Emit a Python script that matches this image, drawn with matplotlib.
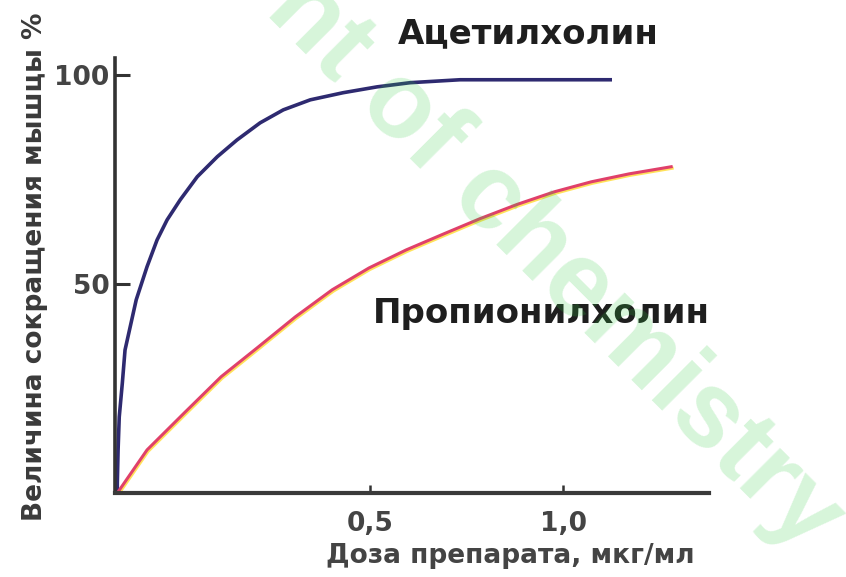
import matplotlib
matplotlib.use("Agg")
import matplotlib.pyplot as plt
import matplotlib.transforms as mtransforms

# values (x in the drawing's dose scale, y in %)
ach_dose = [-0.155, -0.155, -0.153, -0.150, -0.142, -0.135, -0.106, -0.078,
            -0.052, -0.026, 0.008, 0.052, 0.104, 0.155, 0.215, 0.275, 0.345,
            0.430, 0.518, 0.604, 0.733, 1.122]
ach_resp = [0, 2.4, 10.3, 18.2, 26.3, 34.2, 46.2, 54.1,
            60.5, 65.3, 70.1, 75.6, 80.4, 84.4, 88.5, 91.6, 94.0,
            95.7, 97.1, 98.1, 98.8, 98.8]

prop_dose = [-0.155, -0.078, 0.018, 0.114, 0.210, 0.306, 0.402,
             0.497, 0.593, 0.692, 0.785, 0.881, 0.977, 1.073, 1.171, 1.280]
prop_resp = [0, 10.3, 19.1, 27.8, 34.9, 42.1, 48.6,
             53.8, 58.1, 62.0, 65.6, 69.0, 72.0, 74.4, 76.3, 78.0]

x_ticks = [0.5, 1.0]
x_ticklabels = ["0,5", "1,0"]
y_ticks = [50, 100]
y_ticklabels = ["50", "100"]

fig = plt.figure(figsize=(8.46, 5.77), dpi=100)
ax = fig.add_axes([115 / 846, 1 - 493 / 577, 594 / 846, 435 / 577])
ax.set_facecolor("none")

ax.plot(ach_dose, ach_resp, color="#2e2a70", lw=2.6, solid_joinstyle="round")

# yellow fringe under the red curve
shift = mtransforms.offset_copy(ax.transData, fig=fig, x=1.0, y=-1.5, units="dots")
ax.plot(prop_dose, prop_resp, color="#ffe25a", lw=2.2, transform=shift,
        solid_joinstyle="round")
ax.plot(prop_dose, prop_resp, color="#e0406a", lw=2.2, solid_joinstyle="round")

ax.set_xlim(-0.161, 1.378)
ax.set_ylim(0, 104)

for s in ["top", "right"]:
    ax.spines[s].set_visible(False)
ax.spines["left"].set_color("#333333")
ax.spines["left"].set_linewidth(2.6)
ax.spines["bottom"].set_color("#3a3a3a")
ax.spines["bottom"].set_linewidth(3.0)

ax.set_xticks(x_ticks)
ax.set_xticklabels(x_ticklabels)
ax.set_yticks(y_ticks)
ax.set_yticklabels(y_ticklabels)
ax.tick_params(axis="y", direction="in", length=11, width=2.2, color="#333333",
               pad=4, labelsize=19, labelcolor="#444444")
ax.tick_params(axis="x", direction="in", length=6, width=1.8, color="#333333",
               pad=13, labelsize=19, labelcolor="#444444")
for lab in ax.get_xticklabels() + ax.get_yticklabels():
    lab.set_fontweight("bold")

fig.text(35 / 846, 1 - 267 / 577, "Величина сокращения мышцы %", rotation=90,
         ha="center", va="center", fontsize=19, fontweight="bold", color="#3a3a3a")
fig.text(510 / 846, 1 - 556 / 577, "Доза препарата, мкг/мл",
         ha="center", va="center", fontsize=19, fontweight="bold", color="#444444")

fig.text(398 / 846, 1 - 43 / 577, "Ацетилхолин", ha="left", va="baseline",
         fontsize=24.5, fontweight="bold", color="#1e1e1e")
fig.text(373 / 846, 1 - 323 / 577, "Пропионилхолин", ha="left", va="baseline",
         fontsize=24.5, fontweight="bold", color="#1e1e1e")

# watermark
fig.text(264 / 846, 1 - 12 / 577, "nt of chemistry", rotation=-45,
         rotation_mode="anchor", ha="left", va="baseline",
         fontsize=77, fontweight="bold", family="Liberation Sans",
         color="#33cc44", alpha=0.2, zorder=10)

fig.savefig("out.png", dpi=100)
